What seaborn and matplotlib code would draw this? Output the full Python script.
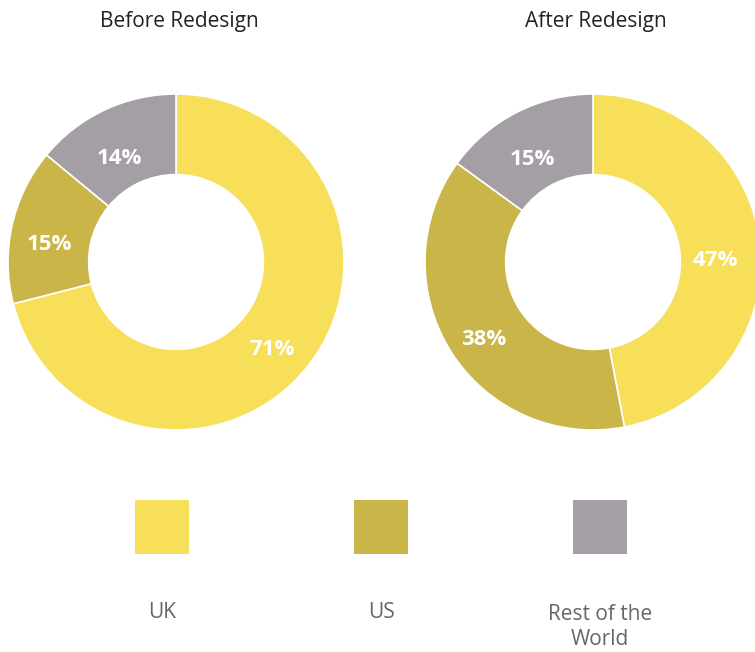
import matplotlib
matplotlib.use("Agg")
import matplotlib.pyplot as plt
import seaborn as sns
import pandas as pd

# ---- data ----
regions = ["UK", "US", "Rest of the World"]
legend_labels = ["UK", "US", "Rest of the\nWorld"]
before_values = [71, 15, 14]
after_values = [47, 38, 15]
titles = ["Before Redesign", "After Redesign"]

sns.set_theme(style="white")
plt.rcParams["font.family"] = ["Open Sans", "DejaVu Sans"]

colors = ["#F7DF5A", "#C9B548", "#A49FA5"]
palette = dict(zip(regions, colors))

W, H = 755, 652
fig = plt.figure(figsize=(W / 100, H / 100), dpi=100)
fig.patch.set_facecolor("white")

R = 168
centers = [(176, 262), (593, 262)]
for (cx, cy), vals, title in zip(centers, [before_values, after_values], titles):
    ax = fig.add_axes([(cx - R) / W, (H - cy - R) / H, 2 * R / W, 2 * R / H])
    wedges, texts, autotexts = ax.pie(
        vals,
        colors=colors,
        startangle=90,
        counterclock=False,
        autopct="%d%%",
        pctdistance=0.75,
        wedgeprops=dict(width=0.48, edgecolor="white", linewidth=1.2),
        textprops=dict(color="white", fontsize=16, fontweight="bold"),
    )
    for t in autotexts:
        x, y = t.get_position()
        t.set_position((x - 0.02, y - 0.06))
    ax.set_xlim(-1, 1)
    ax.set_ylim(-1, 1)
    ax.set_aspect("equal")
    ax.axis("off")
    fig.text((cx + 3) / W, 1 - 21 / H, title, ha="center", va="center",
             fontsize=15, color="#222222")

# ---- legend ----
step = 219
lx0 = 162 - step / 2
lax = fig.add_axes([lx0 / W, 0.0, 3 * step / W, 1.0])
df = pd.DataFrame({"region": regions, "pos": [0, 1, 2], "y": [0, 0, 0]})
sns.scatterplot(data=df, x="pos", y="y", hue="region", palette=palette,
                marker="s", s=(54 * 0.72) ** 2, linewidth=0,
                legend=False, ax=lax)
lax.set_xlim(-0.5, 2.5)
lax.set_ylim(-(H - 527) / 100, 527 / 100)
for i, lab in enumerate(legend_labels):
    ytop = 613 if "\n" not in lab else 627
    lax.text(i, -(ytop - 527) / 100, lab, ha="center", va="center",
             fontsize=15, color="#666666", linespacing=1.2)
lax.axis("off")

fig.savefig("out.png", dpi=100, facecolor="white")
